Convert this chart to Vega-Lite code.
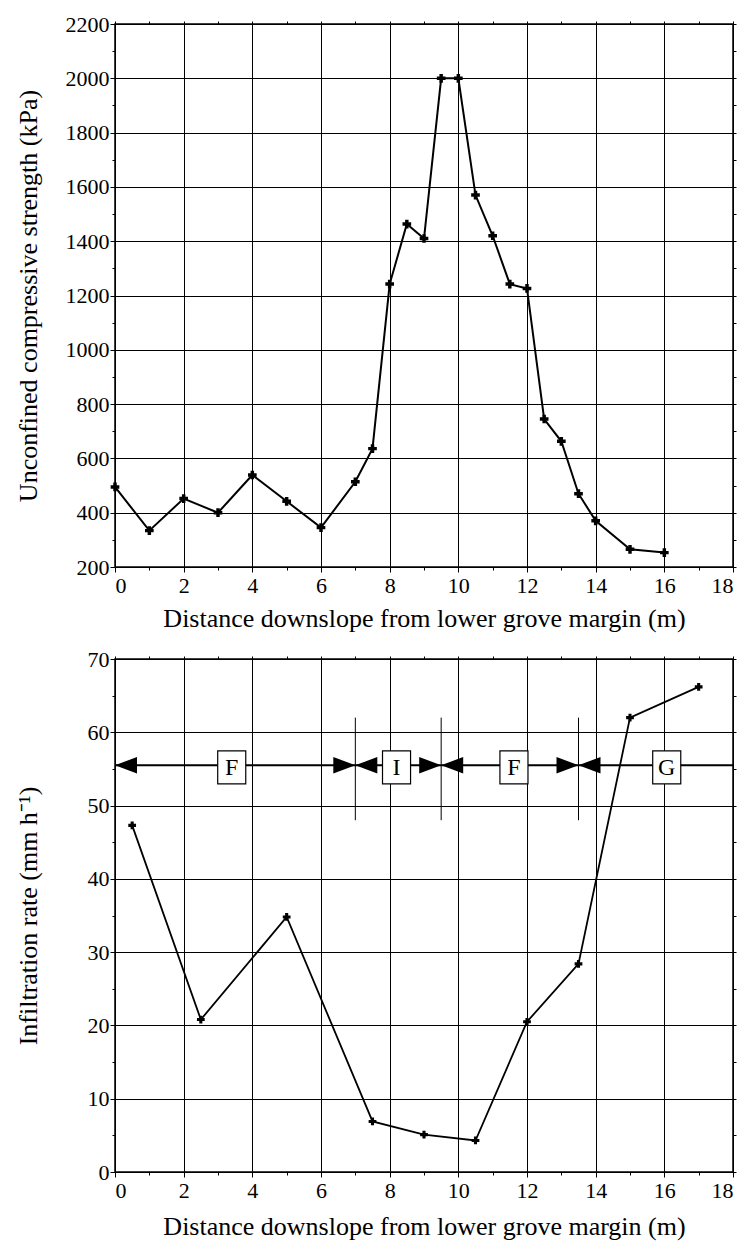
{
  "$schema": "https://vega.github.io/schema/vega-lite/v6.json",
  "padding": {"left": 14, "top": 12, "right": 5, "bottom": 5},
  "background": "white",
  "config": {
    "font": "Liberation Serif",
    "view": {"stroke": "black", "strokeWidth": 1.5},
    "axis": {
      "labelFont": "Liberation Serif",
      "labelFontSize": 22,
      "labelColor": "black",
      "titleFont": "Liberation Serif",
      "titleFontSize": 26,
      "titleFontWeight": "normal",
      "titleColor": "black",
      "tickColor": "black",
      "gridColor": "black",
      "gridWidth": 1,
      "domain": false
    }
  },
  "datasets": {
    "ucs": [
      {"d": 0, "ucs": 495}, {"d": 1, "ucs": 334}, {"d": 2, "ucs": 452}, {"d": 3, "ucs": 400},
      {"d": 4, "ucs": 539}, {"d": 5, "ucs": 442}, {"d": 6, "ucs": 345}, {"d": 7, "ucs": 514},
      {"d": 7.5, "ucs": 636}, {"d": 8, "ucs": 1242}, {"d": 8.5, "ucs": 1463}, {"d": 9, "ucs": 1410},
      {"d": 9.5, "ucs": 2000}, {"d": 10, "ucs": 2000}, {"d": 10.5, "ucs": 1570}, {"d": 11, "ucs": 1420},
      {"d": 11.5, "ucs": 1242}, {"d": 12, "ucs": 1226}, {"d": 12.5, "ucs": 745}, {"d": 13, "ucs": 663},
      {"d": 13.5, "ucs": 470}, {"d": 14, "ucs": 370}, {"d": 15, "ucs": 265}, {"d": 16, "ucs": 253}
    ],
    "infil": [
      {"d": 0.5, "rate": 47.3}, {"d": 2.5, "rate": 20.8}, {"d": 5, "rate": 34.8}, {"d": 7.5, "rate": 6.9},
      {"d": 9, "rate": 5.1}, {"d": 10.5, "rate": 4.3}, {"d": 12, "rate": 20.5}, {"d": 13.5, "rate": 28.4},
      {"d": 15, "rate": 62}, {"d": 17, "rate": 66.2}
    ],
    "band": [{"x1": 0, "x2": 18, "y": 55.5}],
    "dividers": [{"x": 7, "y1": 48, "y2": 62}, {"x": 9.5, "y1": 48, "y2": 62}, {"x": 13.5, "y1": 48, "y2": 62}],
    "arrows": [
      {"x": 0, "y": 55.5, "dir": "left"},
      {"x": 7, "y": 55.5, "dir": "right"}, {"x": 7, "y": 55.5, "dir": "left"},
      {"x": 9.5, "y": 55.5, "dir": "right"}, {"x": 9.5, "y": 55.5, "dir": "left"},
      {"x": 13.5, "y": 55.5, "dir": "right"}, {"x": 13.5, "y": 55.5, "dir": "left"}
    ],
    "zones": [
      {"x": 3.4, "y": 55.2, "zone": "F"}, {"x": 8.2, "y": 55.2, "zone": "I"},
      {"x": 11.62, "y": 55.2, "zone": "F"}, {"x": 16.07, "y": 55.2, "zone": "G"}
    ]
  },
  "vconcat": [
    {
      "width": 618,
      "height": 543,
      "resolve": {"axis": {"x": "independent", "y": "independent"}},
      "layer": [
        {
          "data": {"name": "ucs"},
          "mark": {"type": "line", "color": "black", "strokeWidth": 2,
                   "point": {"shape": "cross", "size": 75, "filled": true, "color": "black"}},
          "encoding": {
            "x": {"field": "d", "type": "quantitative",
                  "scale": {"domain": [0, 18], "nice": false, "zero": false},
                  "axis": {"orient": "bottom", "title": "Distance downslope from lower grove margin (m)",
                           "values": [0,1,2,3,4,5,6,7,8,9,10,11,12,13,14,15,16,17,18],
                           "labelExpr": "datum.value % 2 == 0 ? datum.label : ''",
                           "grid": true,
                           "gridOpacity": {"condition": {"test": "datum.value % 2 != 0", "value": 0}, "value": 1},
                           "tickSize": {"condition": {"test": "datum.value % 2 != 0", "value": 3}, "value": 5},
                           "labelPadding": 3, "titleY": 51, "titleBaseline": "middle"}},
            "y": {"field": "ucs", "type": "quantitative",
                  "scale": {"domain": [200, 2200], "nice": false, "zero": false},
                  "axis": {"orient": "left", "title": "Unconfined compressive strength (kPa)",
                           "values": [200,300,400,500,600,700,800,900,1000,1100,1200,1300,1400,1500,1600,1700,1800,1900,2000,2100,2200],
                           "labelExpr": "datum.value % 200 == 0 ? datum.label : ''",
                           "format": "d",
                           "grid": true,
                           "gridOpacity": {"condition": {"test": "datum.value % 200 != 0", "value": 0}, "value": 1},
                           "tickSize": {"condition": {"test": "datum.value % 200 != 0", "value": 3}, "value": 5},
                           "labelPadding": 1, "titleX": -87, "titleBaseline": "middle"}}
          }
        },
        {
          "data": {"name": "ucs"},
          "mark": {"type": "point", "opacity": 0},
          "encoding": {
            "x": {"field": "d", "type": "quantitative",
                  "axis": {"orient": "top", "title": null, "labels": false, "grid": false, "tickSize": 3,
                           "values": [0,1,2,3,4,5,6,7,8,9,10,11,12,13,14,15,16,17,18]}},
            "y": {"field": "ucs", "type": "quantitative",
                  "axis": {"orient": "right", "title": null, "labels": false, "grid": false, "tickSize": 3,
                           "values": [200,300,400,500,600,700,800,900,1000,1100,1200,1300,1400,1500,1600,1700,1800,1900,2000,2100,2200]}}
          }
        }
      ]
    },
    {
      "width": 618,
      "height": 513,
      "resolve": {"axis": {"x": "independent", "y": "independent"}},
      "layer": [
        {
          "data": {"name": "infil"},
          "mark": {"type": "line", "color": "black", "strokeWidth": 1.8,
                   "point": {"shape": "cross", "size": 60, "filled": true, "color": "black"}},
          "encoding": {
            "x": {"field": "d", "type": "quantitative",
                  "scale": {"domain": [0, 18], "nice": false, "zero": false},
                  "axis": {"orient": "bottom", "title": "Distance downslope from lower grove margin (m)",
                           "values": [0,1,2,3,4,5,6,7,8,9,10,11,12,13,14,15,16,17,18],
                           "labelExpr": "datum.value % 2 == 0 ? datum.label : ''",
                           "grid": true,
                           "gridOpacity": {"condition": {"test": "datum.value % 2 != 0", "value": 0}, "value": 1},
                           "tickSize": {"condition": {"test": "datum.value % 2 != 0", "value": 3}, "value": 5},
                           "labelPadding": 3, "titleY": 54, "titleBaseline": "middle"}},
            "y": {"field": "rate", "type": "quantitative",
                  "scale": {"domain": [0, 70], "nice": false, "zero": false},
                  "axis": {"orient": "left", "title": "Infiltration rate (mm h⁻¹)",
                           "values": [0,5,10,15,20,25,30,35,40,45,50,55,60,65,70],
                           "labelExpr": "datum.value % 10 == 0 ? datum.label : ''",
                           "grid": true,
                           "gridOpacity": {"condition": {"test": "datum.value % 10 != 0", "value": 0}, "value": 1},
                           "tickSize": {"condition": {"test": "datum.value % 10 != 0", "value": 3}, "value": 5},
                           "labelPadding": 1, "titleX": -87, "titleBaseline": "middle"}}
          }
        },
        {
          "data": {"name": "infil"},
          "mark": {"type": "point", "opacity": 0},
          "encoding": {
            "x": {"field": "d", "type": "quantitative",
                  "axis": {"orient": "top", "title": null, "labels": false, "grid": false, "tickSize": 3,
                           "values": [0,1,2,3,4,5,6,7,8,9,10,11,12,13,14,15,16,17,18]}},
            "y": {"field": "rate", "type": "quantitative",
                  "axis": {"orient": "right", "title": null, "labels": false, "grid": false, "tickSize": 3,
                           "values": [0,5,10,15,20,25,30,35,40,45,50,55,60,65,70]}}
          }
        },
        {
          "data": {"name": "band"},
          "mark": {"type": "rule", "color": "black", "strokeWidth": 2},
          "encoding": {
            "x": {"field": "x1", "type": "quantitative", "axis": null},
            "x2": {"field": "x2"},
            "y": {"field": "y", "type": "quantitative", "axis": null}
          }
        },
        {
          "data": {"name": "dividers"},
          "mark": {"type": "rule", "color": "black", "strokeWidth": 1},
          "encoding": {
            "x": {"field": "x", "type": "quantitative", "axis": null},
            "y": {"field": "y1", "type": "quantitative", "axis": null},
            "y2": {"field": "y2"}
          }
        },
        {
          "data": {"name": "arrows"},
          "mark": {"type": "point", "filled": true, "color": "black", "opacity": 1, "size": 1936, "strokeWidth": 0},
          "encoding": {
            "x": {"field": "x", "type": "quantitative", "axis": null},
            "y": {"field": "y", "type": "quantitative", "axis": null},
            "shape": {"field": "dir", "type": "nominal", "legend": null,
                      "scale": {"domain": ["left", "right"], "range": ["M0,0L1,-0.38L1,0.38Z", "M0,0L-1,-0.38L-1,0.38Z"]}}
          }
        },
        {
          "data": {"name": "zones"},
          "mark": {"type": "point", "shape": "M-0.85,-1L0.85,-1L0.85,1L-0.85,1Z", "size": 1089,
                   "filled": true, "fill": "white", "stroke": "black", "strokeWidth": 1.2, "opacity": 1},
          "encoding": {
            "x": {"field": "x", "type": "quantitative", "axis": null},
            "y": {"field": "y", "type": "quantitative", "axis": null}
          }
        },
        {
          "data": {"name": "zones"},
          "mark": {"type": "text", "font": "Liberation Serif", "fontSize": 24, "color": "black",
                   "align": "center", "baseline": "middle", "dy": 1},
          "encoding": {
            "x": {"field": "x", "type": "quantitative", "axis": null},
            "y": {"field": "y", "type": "quantitative", "axis": null},
            "text": {"field": "zone"}
          }
        }
      ]
    }
  ],
  "spacing": 92,
  "bounds": "flush"
}
